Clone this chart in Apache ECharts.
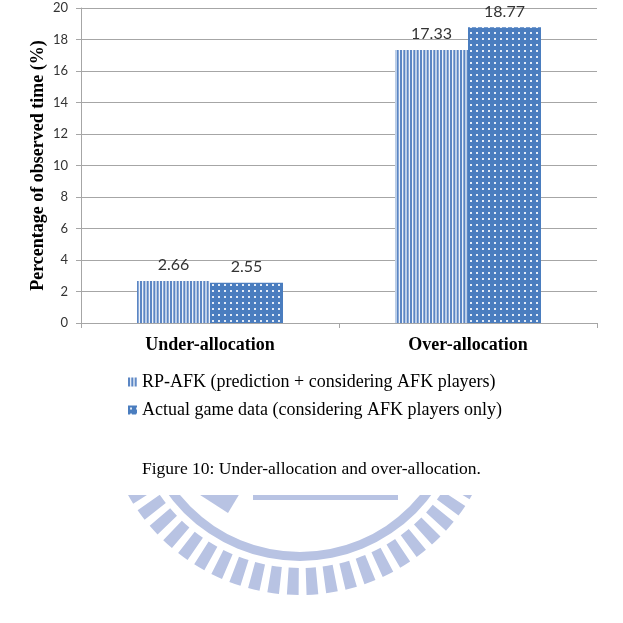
<!DOCTYPE html>
<html>
<head>
<meta charset="utf-8">
<script src="https://cdn.jsdelivr.net/npm/echarts@6/dist/echarts.min.js"></script>
<style>
  html, body { margin: 0; padding: 0; background: #fff; }
  #chart { width: 623px; height: 623px; }
</style>
</head>
<body>
<div id="chart"></div>
<script>
const categories = ['Under-allocation', 'Over-allocation'];
const rpAfk = [2.66, 17.33];
const actualData = [2.55, 18.77];
const seriesNames = [
  'RP-AFK (prediction + considering AFK players)',
  'Actual game data (considering AFK players only)'
];

// vertical stripes pattern
function stripeCanvas() {
  const c = document.createElement('canvas');
  c.width = 10; c.height = 4;
  const ctx = c.getContext('2d');
  ctx.fillStyle = '#eef3fa';
  ctx.fillRect(0, 0, 10, 4);
  ctx.fillStyle = '#5b86c4';
  [0, 3.33, 6.67].forEach(x => ctx.fillRect(x, 0, 2, 4));
  return c;
}
// white dots pattern
function dotCanvas() {
  const c = document.createElement('canvas');
  c.width = 6; c.height = 6;
  const ctx = c.getContext('2d');
  ctx.fillStyle = '#4a7dbf';
  ctx.fillRect(0, 0, 6, 6);
  ctx.fillStyle = '#e4ecf7';
  ctx.fillRect(2, 2, 2, 2);
  return c;
}

// faded logo watermark at the bottom
const logoColor = '#b8c3e3';
const cx = 300, cy = 397;
const logo = [];
for (let a = 22; a <= 158; a += 5.7) {
  const s = a * Math.PI / 180;
  logo.push({
    type: 'sector', z: -10,
    shape: { cx: cx, cy: cy, r0: 171, r: 198, startAngle: s, endAngle: s + 3.4 * Math.PI / 180 },
    style: { fill: logoColor }
  });
}
logo.push({
  type: 'sector', z: -10,
  shape: { cx: cx, cy: cy, r0: 155, r: 164, startAngle: 0, endAngle: Math.PI },
  style: { fill: logoColor }
});
logo.push({ type: 'rect', z: -10, shape: { x: 253, y: 493, width: 145, height: 7 }, style: { fill: logoColor } });
logo.push({ type: 'polygon', z: -10, shape: { points: [[197, 493], [240, 493], [228, 513]] }, style: { fill: logoColor } });
logo.push({ type: 'rect', z: -5, shape: { x: 0, y: 0, width: 623, height: 495 }, style: { fill: '#fff' } });

const chart = echarts.init(document.getElementById('chart'));
chart.setOption({
  backgroundColor: '#fff',
  animation: false,
  title: {
    text: 'Figure 10: Under-allocation and over-allocation.',
    left: 'center',
    top: 455,
    textStyle: { fontFamily: 'Liberation Serif', fontWeight: 'normal', fontSize: 17.5, color: '#000' }
  },
  graphic: logo,
  legend: {
    orient: 'vertical',
    left: 123,
    top: 368,
    itemWidth: 9,
    itemHeight: 9,
    itemGap: 10,
    icon: 'rect',
    textStyle: { fontFamily: 'Liberation Serif', fontSize: 18, color: '#000' },
    data: seriesNames
  },
  grid: { left: 81, right: 26, top: 8, bottom: 300 },
  xAxis: {
    type: 'category',
    data: categories,
    axisLine: { lineStyle: { color: '#a6a6a6' } },
    axisTick: { show: true, length: 5, lineStyle: { color: '#a6a6a6' } },
    axisLabel: {
      margin: 13,
      fontFamily: 'Liberation Serif', fontWeight: 'bold', fontSize: 18, color: '#000'
    }
  },
  yAxis: {
    type: 'value',
    min: 0, max: 20, interval: 2,
    name: 'Percentage of observed time (%)',
    nameLocation: 'middle',
    nameGap: 34,
    nameMoveOverlap: false,
    nameTextStyle: { fontFamily: 'Liberation Serif', fontWeight: 'bold', fontSize: 18, color: '#000' },
    axisLine: { show: true, lineStyle: { color: '#a6a6a6' } },
    axisTick: { show: true, length: 5, lineStyle: { color: '#a6a6a6' } },
    axisLabel: { margin: 13, fontFamily: 'Lato', fontSize: 13, color: '#333' },
    splitLine: { lineStyle: { color: '#a6a6a6' } }
  },
  series: [
    {
      name: seriesNames[0],
      type: 'bar',
      data: rpAfk,
      barWidth: 73,
      barGap: '0%',
      itemStyle: { color: { image: stripeCanvas(), repeat: 'repeat' } },
      label: { show: true, position: 'top', distance: 8, fontFamily: 'Lato', fontSize: 16, color: '#333' }
    },
    {
      name: seriesNames[1],
      type: 'bar',
      data: actualData,
      barWidth: 73,
      barGap: '0%',
      itemStyle: { color: { image: dotCanvas(), repeat: 'repeat' } },
      label: { show: true, position: 'top', distance: 8, fontFamily: 'Lato', fontSize: 16, color: '#333' }
    }
  ]
});
</script>
</body>
</html>
